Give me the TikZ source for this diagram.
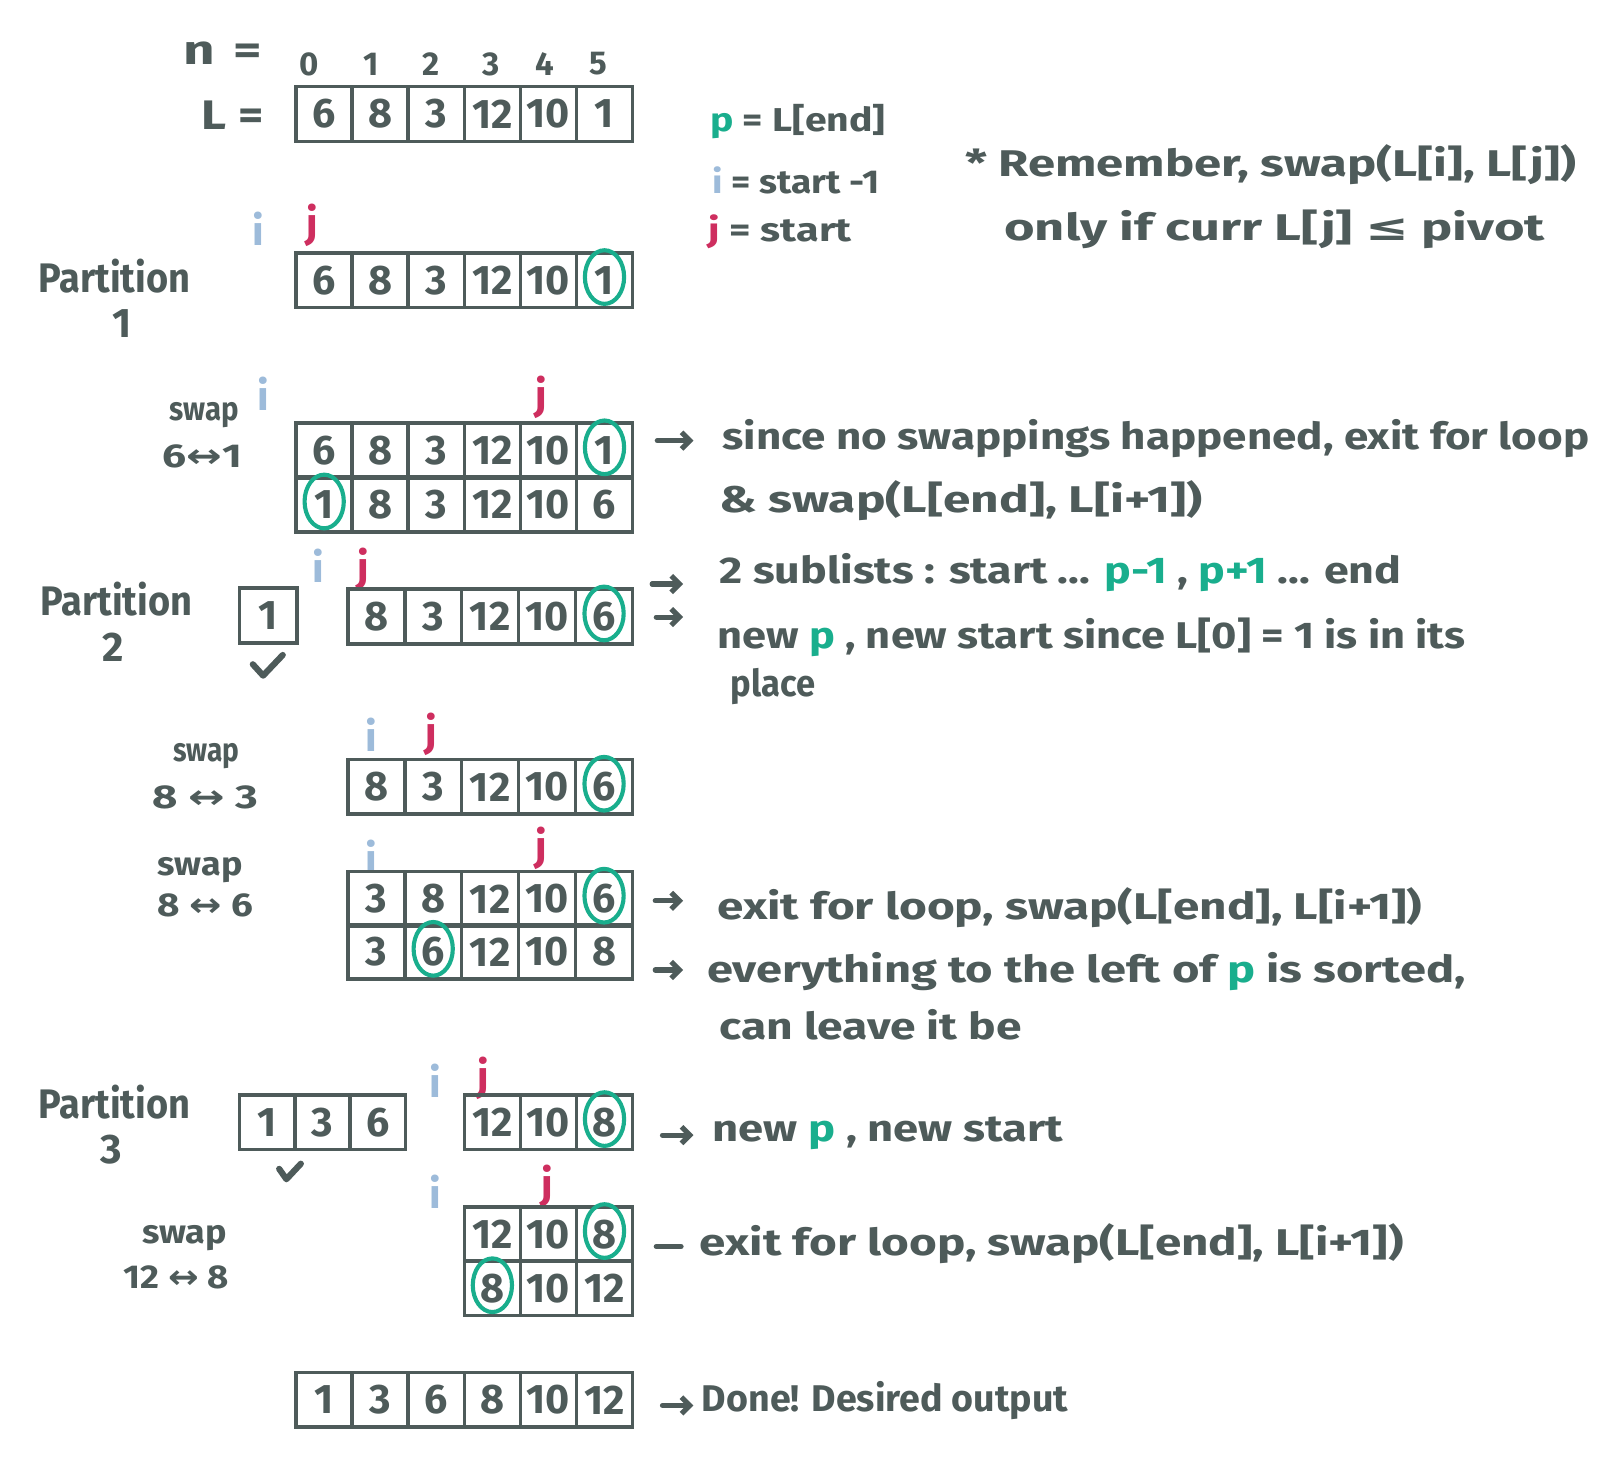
\documentclass[tikz,border=0pt]{standalone}
\usepackage{fontspec}
\setmainfont{Fira Sans}
\newfontfamily\symfont{DejaVu Sans}
\usepackage{graphicx}
\usetikzlibrary{arrows.meta,calc}
\definecolor{ink}{HTML}{4E5B5A}
\definecolor{pivc}{HTML}{19AE8D}
\definecolor{ic}{HTML}{9DBBDA}
\definecolor{jc}{HTML}{CE2E5F}
% stretch a line of text horizontally to a given width (pt)
\newcommand\fitw[2]{\resizebox{#1pt}{\height}{#2}}
\newcommand\swaparrow{{\symfont ↔}}
% one row of array cells: name, left x, centre y, cell width, values
\newcommand\cellrow[5]{%
  \foreach \v [count=\k from 0] in {#5}
    \node[cell, minimum width=#4pt] (#1-\k) at ({#2+#4*(\k+0.5)},#3) {\v};}

\begin{document}
\begin{tikzpicture}[x=1pt,y=-1pt,
  cell/.style={draw=ink, line width=3.5pt, minimum height=53pt, inner sep=0pt,
    text=ink, font=\fontsize{40}{40}\selectfont\bfseries},
  ring/.style={draw=pivc, line width=4pt},
  txt/.style={anchor=west, inner sep=0pt, text=ink, font=\fontsize{36}{40}\selectfont\bfseries},
  legend/.style={anchor=west, inner sep=0pt, text=ink, font=\fontsize{32}{36}\selectfont\bfseries},
  lbl/.style={inner sep=0pt, text=ink, font=\fontsize{40}{40}\selectfont\bfseries},
  small/.style={inner sep=0pt, text=ink, font=\fontsize{32}{36}\selectfont\bfseries},
  ivar/.style={inner sep=0pt, text=ic, font=\fontsize{40}{40}\selectfont\bfseries},
  jvar/.style={inner sep=0pt, text=jc, font=\fontsize{40}{40}\selectfont\bfseries},
  arr/.style={draw=ink, line width=5pt, line cap=round, -{Straight Barb[length=8pt,width=16pt]}},
  stroke/.style={draw=ink, line width=5pt, line cap=round},
  tick/.style={draw=ink, line width=6pt, line cap=round, line join=round}]

\path[use as bounding box, fill=white] (0,0) rectangle (1568,1422);

% ---------- the list and its indices ----------
\node[lbl, anchor=west] (nlab) at (178,52) {\fitw{76}{n\,\,=}};
\foreach \d/\x in {0/300,1/360,2/418,3/476,4/528,5/580}
  \node[small] (idx\d) at (\x,62) {\d};
\node[lbl, anchor=west] (Llab) at (195,112) {\fitw{60}{L =}};
\cellrow{L}{287}{110.5}{54.33}{6,8,3,12,10,1}

% ---------- legend and reminder ----------
\node[legend] (legp) at (688,118) {\fitw{170}{\textcolor{pivc}{p} = L[end]}};
\node[legend] (legi) at (690,175) {\fitw{162}{\textcolor{ic}{i} = start -1}};
\node[legend] (legj) at (686,225) {\fitw{139}{\textcolor{jc}{j} = start}};
\node[txt] (rem1) at (935,160) {\fitw{592}{* Remember, swap(L[i], L[j])}};
\node[txt] (rem2) at (973,222) {\fitw{524}{only if curr L[j] {\symfont ≤} pivot}};

% ---------- partition 1 ----------
\node[lbl] (part1) at (111,268) {\fitw{147}{Partition}};
\node[lbl] (part1n) at (118,314) {1};
\node[ivar] (i1) at (250,222) {i};
\node[jvar] (j1) at (303,218) {j};
\cellrow{P1}{287}{271.5}{54.33}{6,8,3,12,10,1}

\node[small] (sw1) at (198,402) {\fitw{67}{swap}};
\node[small] (sw1b) at (196,442) {\fitw{77}{6\swaparrow1}};
\node[ivar] (i2) at (255,382) {i};
\node[jvar] (j2) at (525,385) {j};
\cellrow{S1a}{287}{436.5}{54.33}{6,8,3,12,10,1}
\cellrow{S1b}{287}{489}{54.33}{1,8,3,12,10,6}
\coordinate (a1s) at (637,427); \coordinate (a1e) at (672,427);
\draw[arr] (a1s) -- (a1e);
\node[txt] (n1a) at (700,425) {\fitw{840}{since no swappings happened, exit for loop}};
\node[txt] (n1b) at (697,485) {\fitw{468}{\& swap(L[end], L[i+1])}};

% ---------- partition 2 ----------
\node[lbl] (part2) at (113,581) {\fitw{147}{Partition}};
\node[lbl] (part2n) at (110,627) {2};
\node[cell, minimum width=56pt] (P2a-0) at (260,596.5) {1};
\draw[tick] ($(P2a-0.south)+(-15,19)$) -- ($(P2a-0.south)+(-5,30)$) -- ($(P2a-0.south)+(14,10)$);
\node[ivar] (i3) at (308,548) {i};
\node[jvar] (j3) at (352,552) {j};
\cellrow{P2b}{337}{597.5}{55.2}{8,3,12,10,6}
\coordinate (a2s) at (632,566); \coordinate (a2e) at (662,566);
\coordinate (a3s) at (636,598); \coordinate (a3e) at (662,598);
\draw[arr] (a2s) -- (a2e);
\draw[arr] (a3s) -- (a3e);
\node[txt] (n2a) at (697,555) {\fitw{661}{2 sublists : start ... \textcolor{pivc}{p-1} , \textcolor{pivc}{p+1} ... end}};
\node[txt] (n2b) at (695,618) {\fitw{725}{new \textcolor{pivc}{p} , new start since L[0] = 1 is in its}};
\node[txt] (n2c) at (708,665) {\fitw{82}{place}};

\node[small] (sw2) at (200,733) {\fitw{64}{swap}};
\node[small] (sw2b) at (199,773) {\fitw{102}{8 \swaparrow{} 3}};
\node[ivar] (i4) at (360,712) {i};
\node[jvar] (j4) at (418,712) {j};
\cellrow{S2}{337}{762.5}{55.2}{8,3,12,10,6}

\node[small] (sw3) at (194,843) {\fitw{82}{swap}};
\node[small] (sw3b) at (199,877) {\fitw{92}{8 \swaparrow{} 6}};
\node[ivar] (i5) at (360,830) {i};
\node[jvar] (j5) at (525,822) {j};
\cellrow{S3a}{337}{871}{55.2}{3,8,12,10,6}
\cellrow{S3b}{337}{922.5}{55.2}{3,6,12,10,8}
\coordinate (a4s) at (635,873); \coordinate (a4e) at (662,873);
\coordinate (a5s) at (635,940); \coordinate (a5e) at (662,940);
\draw[arr] (a4s) -- (a4e);
\draw[arr] (a5s) -- (a5e);
\node[txt] (n3a) at (695,880) {\fitw{683}{exit for loop, swap(L[end], L[i+1])}};
\node[txt] (n3b) at (685,942) {\fitw{735}{everything to the left of \textcolor{pivc}{p} is sorted,}};
\node[txt] (n3c) at (697,993) {\fitw{293}{can leave it be}};

% ---------- partition 3 ----------
\node[lbl] (part3) at (111,1068) {\fitw{147}{Partition}};
\node[lbl] (part3n) at (108,1114) {3};
\cellrow{P3a}{232}{1087.5}{53.7}{1,3,6}
\draw[tick] ($(P3a-1.south)+(-42,17)$) -- ($(P3a-1.south)+(-35,27)$) -- ($(P3a-1.south)+(-21,12)$);
\node[ivar] (i6) at (422,1047) {i};
\node[jvar] (j6) at (468,1045) {j};
\cellrow{P3b}{450}{1087.5}{54.33}{12,10,8}
\coordinate (a6s) at (642,1100); \coordinate (a6e) at (672,1100);
\draw[arr] (a6s) -- (a6e);
\node[txt] (n4a) at (690,1098) {\fitw{340}{new \textcolor{pivc}{p} , new start}};

\node[small] (sw4) at (179,1200) {\fitw{82}{swap}};
\node[small] (sw4b) at (171,1238) {\fitw{102}{12 \swaparrow{} 8}};
\node[ivar] (i7) at (422,1155) {i};
\node[jvar] (j7) at (530,1150) {j};
\cellrow{S4a}{450}{1196}{54.33}{12,10,8}
\cellrow{S4b}{450}{1248.5}{54.33}{8,10,12}
\coordinate (d1s) at (636,1208); \coordinate (d1e) at (660,1208);
\draw[stroke] (d1s) -- (d1e);
\node[txt] (n5a) at (678,1205) {\fitw{682}{exit for loop, swap(L[end], L[i+1])}};

% ---------- result ----------
\cellrow{D}{287}{1356.5}{54.33}{1,3,6,8,10,12}
\coordinate (a7s) at (642,1362); \coordinate (a7e) at (672,1362);
\draw[arr] (a7s) -- (a7e);
\node[txt] (n6a) at (680,1357) {\fitw{355}{Done! Desired output}};

% ---------- pivot rings ----------
\foreach \c in {P1-5,S1a-5,S1b-0,P2b-4,S2-4,S3a-4,S3b-1,P3b-2,S4a-2,S4b-0}
  \draw[ring] ($(\c.center)+(0,-3)$) ellipse [x radius=19pt, y radius=26pt];
\end{tikzpicture}
\end{document}
